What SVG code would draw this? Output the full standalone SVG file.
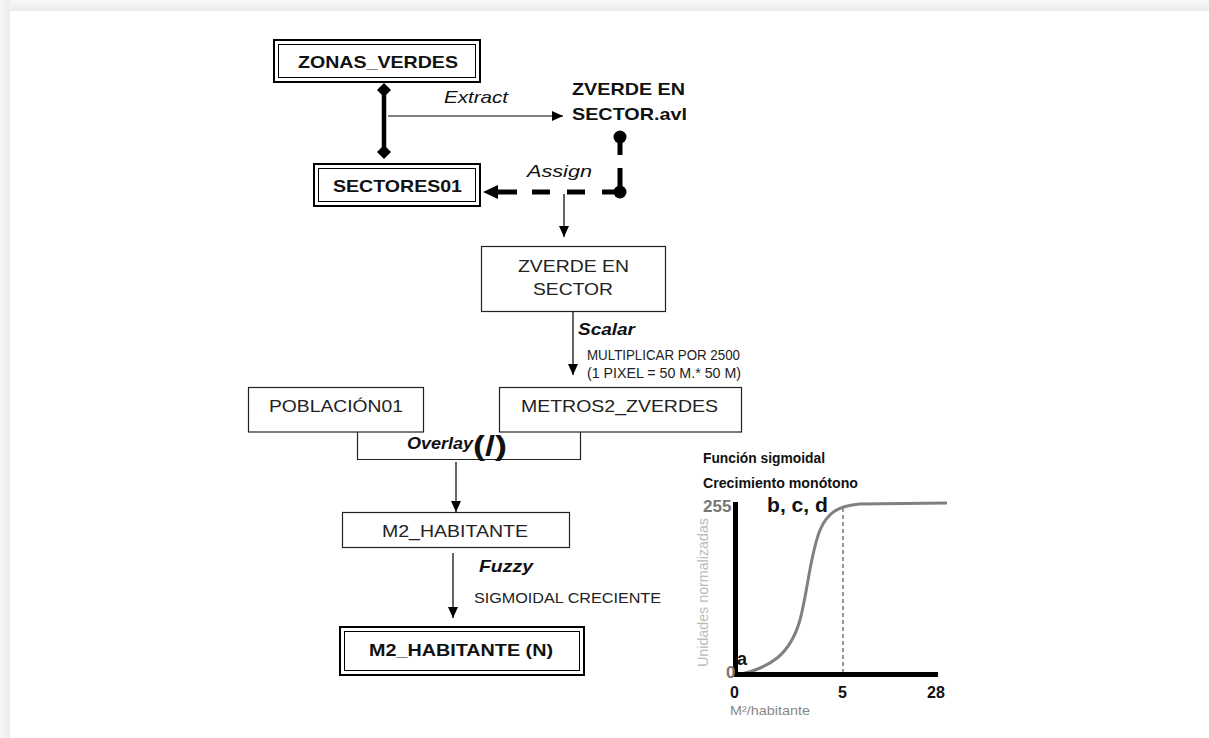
<svg xmlns="http://www.w3.org/2000/svg" width="1209" height="738" viewBox="0 0 1209 738">
<defs>
<marker id="arr" markerUnits="userSpaceOnUse" markerWidth="12" markerHeight="10" refX="11" refY="5" orient="auto"><path d="M0,0 L11,5 L0,10 Z" fill="#000"/></marker>
<linearGradient id="shT" x1="0" y1="0" x2="0" y2="1"><stop offset="0" stop-color="#f7f7f7"/><stop offset="1" stop-color="#ececec"/></linearGradient>
<linearGradient id="shL" x1="0" y1="0" x2="1" y2="0"><stop offset="0" stop-color="#f7f7f7"/><stop offset="1" stop-color="#ececec"/></linearGradient>
</defs>
<style>
text{font-family:"Liberation Sans",Arial,sans-serif;fill:#111}
.b{font-weight:bold}
.i{font-style:italic}
.reg{font-size:17px;fill:#222}
.small{font-size:14px;fill:#222}
.box{fill:#fff;stroke:#222;stroke-width:1.2}
.outer{fill:#fff;stroke:#000;stroke-width:2}
.inner{fill:none;stroke:#000;stroke-width:1}
.thin{stroke:#000;stroke-width:1.2;fill:none}
.dash{stroke:#000;stroke-width:5;fill:none}
.gray{fill:#777}
</style>
<rect x="0" y="0" width="1209" height="738" fill="#f6f6f6"/>
<rect x="0" y="0" width="1209" height="11" fill="url(#shT)"/>
<rect x="0" y="0" width="10" height="738" fill="url(#shL)"/>
<rect x="10" y="11" width="1199" height="727" fill="#fff"/>

<g id="connectors">
<line x1="384" y1="90" x2="384" y2="152" stroke="#000" stroke-width="4.5"/>
<path d="M384,83 L391,90 L384,97 L377,90 Z" fill="#000"/>
<path d="M384,145 L391,152 L384,159 L377,152 Z" fill="#000"/>
<line x1="388" y1="116" x2="563" y2="116" class="thin" marker-end="url(#arr)"/>
<circle cx="620" cy="137" r="6.5" fill="#000"/>
<line x1="620" y1="137" x2="620" y2="155" class="dash"/>
<line x1="620" y1="168" x2="620" y2="192" class="dash"/>
<circle cx="620" cy="192" r="6.5" fill="#000"/>
<line x1="602" y1="192" x2="620" y2="192" class="dash"/>
<line x1="567" y1="192" x2="585" y2="192" class="dash"/>
<line x1="532" y1="192" x2="550" y2="192" class="dash"/>
<line x1="497" y1="192" x2="517" y2="192" class="dash"/>
<path d="M483,192 L498,185 L498,199 Z" fill="#000"/>
<line x1="564" y1="194" x2="564" y2="237" class="thin" marker-end="url(#arr)"/>
<line x1="573" y1="312" x2="573" y2="375" class="thin" marker-end="url(#arr)"/>
<line x1="456" y1="462" x2="456" y2="512" class="thin" marker-end="url(#arr)"/>
<line x1="453" y1="553" x2="453" y2="618" class="thin" marker-end="url(#arr)"/>
<text x="444" y="103" class="i" font-size="17" textLength="64" lengthAdjust="spacingAndGlyphs">Extract</text>
<text x="527" y="177" class="i" font-size="17" textLength="65" lengthAdjust="spacingAndGlyphs">Assign</text>
<text x="578" y="335" class="b i" font-size="17" textLength="57" lengthAdjust="spacingAndGlyphs">Scalar</text>
<text x="587" y="360" class="small" textLength="153" lengthAdjust="spacingAndGlyphs">MULTIPLICAR POR 2500</text>
<text x="587" y="378" class="small" textLength="154" lengthAdjust="spacingAndGlyphs">(1 PIXEL = 50 M.* 50 M)</text>
<text x="479" y="572" class="b i" font-size="17" textLength="54" lengthAdjust="spacingAndGlyphs">Fuzzy</text>
<text x="474" y="603" class="small" textLength="187" lengthAdjust="spacingAndGlyphs">SIGMOIDAL CRECIENTE</text>
</g>

<g id="zonas_verdes">
<rect x="274" y="40" width="206" height="42" class="outer"/>
<rect x="278.5" y="44.5" width="197" height="33" class="inner"/>
<text x="298" y="68" class="b" font-size="17" textLength="160" lengthAdjust="spacingAndGlyphs">ZONAS_VERDES</text>
</g>

<g id="sectores01">
<rect x="314" y="164" width="166" height="42" class="outer"/>
<rect x="318.5" y="168.5" width="157" height="33" class="inner"/>
<text x="333" y="192" class="b" font-size="17" textLength="129" lengthAdjust="spacingAndGlyphs">SECTORES01</text>
</g>

<g id="zverde_avl">
<text x="572" y="95" class="b" font-size="17" textLength="113" lengthAdjust="spacingAndGlyphs">ZVERDE EN</text>
<text x="572" y="120" class="b" font-size="17" textLength="115" lengthAdjust="spacingAndGlyphs">SECTOR.avl</text>
</g>

<g id="zverde_sector">
<rect x="481.5" y="246.5" width="184" height="65" class="box"/>
<text x="518" y="272" class="reg" textLength="111" lengthAdjust="spacingAndGlyphs">ZVERDE EN</text>
<text x="533" y="295" class="reg" textLength="80" lengthAdjust="spacingAndGlyphs">SECTOR</text>
</g>

<g id="overlay">
<path d="M357.5,432 V459.5 H580.5 V432" class="box"/>
<text x="407" y="449" class="b i" font-size="16" textLength="66" lengthAdjust="spacingAndGlyphs">Overlay</text>
<text x="473" y="455" class="b" font-size="27" textLength="34" lengthAdjust="spacingAndGlyphs">(/)</text>
</g>

<g id="poblacion01">
<rect x="248.5" y="387.5" width="175" height="44.5" class="box"/>
<text x="269" y="412" class="reg" textLength="134" lengthAdjust="spacingAndGlyphs">POBLACIÓN01</text>
</g>

<g id="metros2_zverdes">
<rect x="499.5" y="387.5" width="242" height="44.5" class="box"/>
<text x="521" y="412" class="reg" textLength="197" lengthAdjust="spacingAndGlyphs">METROS2_ZVERDES</text>
</g>

<g id="m2_habitante">
<rect x="342.5" y="512.5" width="227" height="35" class="box"/>
<text x="382" y="537" class="reg" textLength="146" lengthAdjust="spacingAndGlyphs">M2_HABITANTE</text>
</g>

<g id="m2_habitante_n">
<rect x="340" y="627" width="244" height="48" class="outer"/>
<rect x="344.5" y="631.5" width="235" height="39" class="inner"/>
<text x="369" y="656" class="b" font-size="17" textLength="184" lengthAdjust="spacingAndGlyphs">M2_HABITANTE (N)</text>
</g>

<g id="chart">
<text x="703" y="463" class="b" font-size="14" textLength="122" lengthAdjust="spacingAndGlyphs">Función sigmoidal</text>
<text x="703" y="488" class="b" font-size="14" textLength="155" lengthAdjust="spacingAndGlyphs">Crecimiento monótono</text>
<text transform="translate(708,667) rotate(-90)" font-size="14" style="fill:#bbb" textLength="149" lengthAdjust="spacingAndGlyphs">Unidades normalizadas</text>
<line x1="843" y1="508" x2="843" y2="672" stroke="#777" stroke-width="1.5" stroke-dasharray="4,3"/>
<path d="M737,675 C770,668 790,655 800,620 C808,590 810,555 820,530 C828,512 838,506 860,504 L947,503" fill="none" stroke="#808080" stroke-width="3"/>
<rect x="733" y="502" width="5" height="175" fill="#000"/>
<rect x="733" y="672" width="205" height="5" fill="#000"/>
<text x="703" y="512" class="b gray" font-size="17" style="fill:#777">255</text>
<text x="726" y="678" class="b gray" font-size="17" style="fill:#777">0</text>
<text x="737" y="665" class="b" font-size="18">a</text>
<text x="767" y="512" class="b" font-size="20" textLength="61" lengthAdjust="spacingAndGlyphs">b, c, d</text>
<text x="730" y="698" class="b" font-size="16">0</text>
<text x="838" y="698" class="b" font-size="16">5</text>
<text x="927" y="698" class="b" font-size="16">28</text>
<text x="730" y="715" font-size="13" style="fill:#888" textLength="80" lengthAdjust="spacingAndGlyphs">M²/habitante</text>
</g>
</svg>
